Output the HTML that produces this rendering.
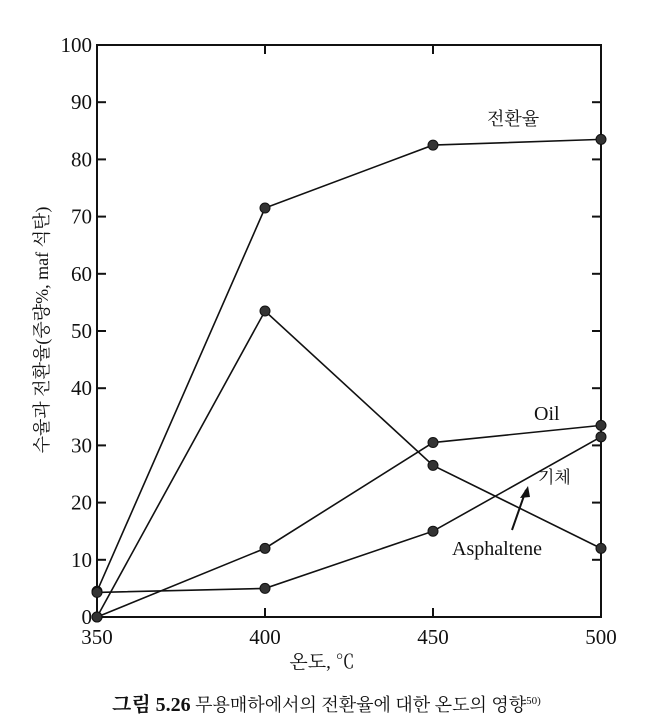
<!DOCTYPE html>
<html><head><meta charset="utf-8"><style>
body{margin:0;background:#fff;width:651px;height:725px;overflow:hidden}
svg{display:block}
text{font-family:"Liberation Serif","Noto Serif CJK SC","Noto Sans CJK KR",serif;fill:#111}
</style></head><body>
<svg width="651" height="725">
<g id="g"></g>
</svg>
<script>
const temps=[350,400,450,500];
const xTicks=[350,400,450,500];
const yTicks=[0,10,20,30,40,50,60,70,80,90,100];
const conversion=[4.5,71.5,82.5,83.5];
const asphaltene=[0,53.5,26.5,12];
const oil=[0,12,30.5,33.5];
const gas=[4.3,5,15,31.5];
const L=97,R=601,T=45,B=617;
const xs=v=>L+(v-350)/150*(R-L);
const ys=v=>B-v/100*(B-T);
const NS='http://www.w3.org/2000/svg';
const g=document.getElementById('g');
function mk(t,a,p){const e=document.createElementNS(NS,t);for(const k in a)e.setAttribute(k,a[k]);(p||g).appendChild(e);return e;}
const frame=mk('rect',{x:L,y:T,width:R-L,height:B-T,fill:'none',stroke:'#111','stroke-width':2});


yTicks.forEach(v=>{
  const l1=mk('line',{x1:L,x2:L+9,y1:ys(v),y2:ys(v),stroke:'#111','stroke-width':2});
  
  
  const l2=mk('line',{x1:R-9,x2:R,y1:ys(v),y2:ys(v),stroke:'#111','stroke-width':2});
  
  
  const t=mk('text',{x:L-5,y:ys(v)+7,'text-anchor':'end','font-size':21});
  t.textContent=v;
  
  
});
xTicks.forEach(v=>{
  const l=mk('line',{x1:xs(v),x2:xs(v),y1:B,y2:B-9,stroke:'#111','stroke-width':2});
  
  
  const l2=mk('line',{x1:xs(v),x2:xs(v),y1:T,y2:T+9,stroke:'#111','stroke-width':2});
  
  
  const t=mk('text',{x:xs(v),y:B+27,'text-anchor':'middle','font-size':21});
  t.textContent=v;
  
  
});
function series(vals,name){
  let pts=vals.map((v,i)=>xs(temps[i])+','+ys(v));
  const p=mk('polyline',{points:pts.join(' '),fill:'none',stroke:'#111','stroke-width':1.6});
  
  
  vals.forEach((v,i)=>{
    const c=mk('circle',{cx:xs(temps[i]),cy:ys(v),r:5,fill:'#333',stroke:'#111'});
    
    
  });
}
series(conversion,'conversion');
series(asphaltene,'asphaltene');
series(oil,'oil');
series(gas,'gas');
function lab(x,y,s,n,fs,extra){const t=mk('text',Object.assign({x:x,y:y,'font-size':fs||18},extra||{}));t.textContent=s;return t;}
lab(487,125,'전환율','conversion-label',18,{'font-family':'Noto Sans CJK KR, sans-serif'});
lab(534,420,'Oil','oil-label',20);
lab(538,483,'기체','gas-label',17,{'font-family':'Noto Sans CJK KR, sans-serif'});
lab(452,555,'Asphaltene','asphaltene-label',20);
const ar=mk('line',{x1:512,y1:530,x2:526,y2:490,stroke:'#111','stroke-width':2});


const ah=mk('polygon',{points:'528,486 520,498 530,497',fill:'#111'});


lab(0,0,'수율과 전환율(중량%, maf 석탄)','y-axis-title',18,{transform:'translate(48,330) rotate(-90)','text-anchor':'middle','font-family':'Noto Sans CJK KR, sans-serif'});
lab(322,668,'온도, ℃','x-axis-title',19,{'text-anchor':'middle','font-family':'Noto Sans CJK KR, sans-serif'});
const cap=lab(112,711,'','caption',18,{'font-family':'Noto Sans CJK KR, sans-serif'});
cap.innerHTML='<tspan font-weight="bold" font-size="20">그림 5.26</tspan>  무용매하에서의 전환율에 대한 온도의 영향<tspan font-size="11" dy="-7">50)</tspan>';
</script>
</body></html>
